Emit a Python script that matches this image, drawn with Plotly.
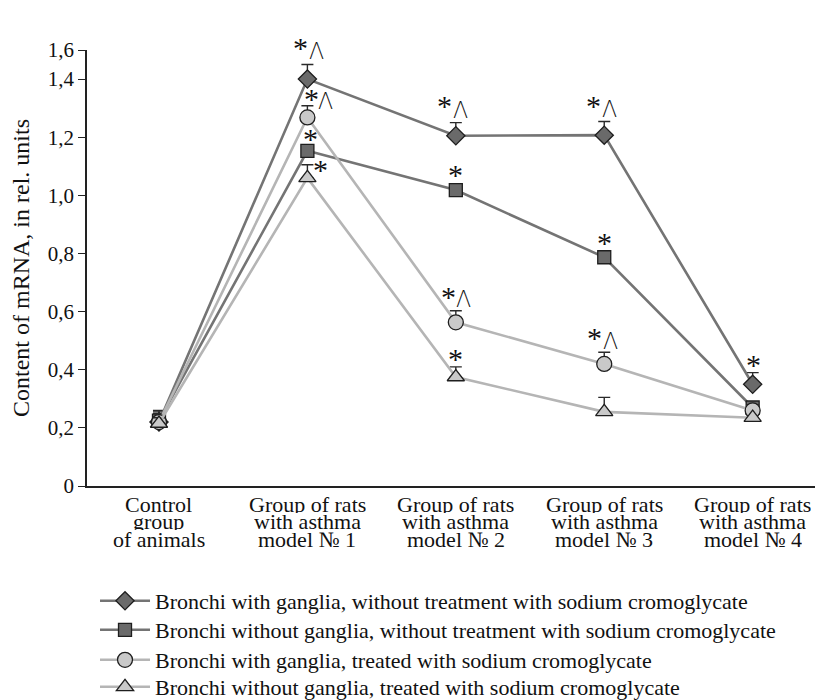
import plotly.graph_objects as go

# ---- data ----
categories = [
    ["Control", "group", "of animals"],
    ["Group of rats", "with asthma", "model № 1"],
    ["Group of rats", "with asthma", "model № 2"],
    ["Group of rats", "with asthma", "model № 3"],
    ["Group of rats", "with asthma", "model № 4"],
]
series_names = [
    "Bronchi with ganglia, without treatment with sodium cromoglycate",
    "Bronchi without ganglia, without treatment with sodium cromoglycate",
    "Bronchi with ganglia, treated with sodium cromoglycate",
    "Bronchi without ganglia, treated with sodium cromoglycate",
]
diamond_vals = [0.22, 1.40, 1.205, 1.207, 0.35]
diamond_err = [0.04, 0.05, 0.045, 0.047, 0.04]
square_vals = [0.225, 1.153, 1.018, 0.787, 0.27]
square_err = [0.03, 0.0, 0.0, 0.0, 0.02]
circle_vals = [0.22, 1.268, 0.563, 0.42, 0.26]
circle_err = [0.03, 0.04, 0.04, 0.04, 0.02]
triangle_vals = [0.215, 1.06, 0.375, 0.255, 0.235]
triangle_err = [0.02, 0.045, 0.035, 0.05, 0.0]

# significance marks: (category index, star, caret)
diamond_marks = [(1, True, True), (2, True, True), (3, True, True), (4, True, False)]
square_marks = [(1, True, False), (2, True, False), (3, True, False)]
circle_marks = [(1, True, True), (2, True, True), (3, True, True)]
triangle_marks = [(1, True, False), (2, True, False)]

ytick_vals = [0, 0.2, 0.4, 0.6, 0.8, 1.0, 1.2, 1.4, 1.5]
ytick_text = ["0", "0,2", "0,4", "0,6", "0,8", "1,0", "1,2", "1,4", "1,6"]

# ---- styling ----
FONT = "Liberation Serif"
DARK_LINE = "#747474"
DARK_FILL = "#6a6a6a"
LIGHT_LINE = "#b5b5b5"
LIGHT_FILL = "#c9c9c9"
EDGE = "#1e1e1e"

x = list(range(len(categories)))
specs = [
    (diamond_vals, diamond_err, "diamond", 14, DARK_LINE, DARK_FILL),
    (square_vals, square_err, "square", 13, DARK_LINE, DARK_FILL),
    (circle_vals, circle_err, "circle", 15, LIGHT_LINE, LIGHT_FILL),
    (triangle_vals, triangle_err, "triangle-up", 15, LIGHT_LINE, LIGHT_FILL),
]
legend_ids = ["legend", "legend2", "legend3", "legend4"]
legend_y = [-0.2638, -0.3303, -0.3991, -0.461]   # legend row centres (paper units)

fig = go.Figure()
for name, lid, (vals, err, sym, size, lc, fc) in zip(series_names, legend_ids, specs):
    fig.add_trace(go.Scatter(
        x=x, y=vals, name=name, mode="lines+markers", legend=lid,
        line=dict(color=lc, width=2.6),
        marker=dict(symbol=sym, size=size, color=fc, line=dict(color=EDGE, width=1.3)),
        error_y=dict(type="data", symmetric=False, array=err,
                     arrayminus=[0] * len(err), color="#2a2a2a", thickness=1.4, width=6),
    ))

annotations = []
# category labels (three lines each)
for i, lines in enumerate(categories):
    for j, t in enumerate(lines):
        annotations.append(dict(
            x=i, y=0, xref="x", yref="y", text=t, showarrow=False,
            yanchor="middle", xanchor="center", yshift=-(18 + 17.5 * j),
            height=17, valign="middle",
            font=dict(family=FONT, size=22, color="#111"),
        ))

# significance marks with per-series pixel offsets (star dx, dy, caret dx, dy)
mark_sets = [
    (diamond_vals, diamond_marks, [(0, 0, 0, 0), (-7, 36, 9, 28), (-11, 34, 5, 26), (-11, 34, 5, 26), (1, 24, 0, 0)]),
    (square_vals, square_marks, [(0, 0, 0, 0), (3, 16, 0, 0), (0, 20, 0, 0), (0, 19, 0, 0), (0, 0, 0, 0)]),
    (circle_vals, circle_marks, [(0, 0, 0, 0), (4, 23, 18, 16), (-7, 30, 8, 23), (-10, 30, 6, 23), (0, 0, 0, 0)]),
    (triangle_vals, triangle_marks, [(0, 0, 0, 0), (13, 12, 0, 0), (0, 23, 0, 0), (0, 0, 0, 0), (0, 0, 0, 0)]),
]
for vals, marks, offs in mark_sets:
    for (ci, star, caret) in marks:
        sdx, sdy, cdx, cdy = offs[ci]
        if star:
            annotations.append(dict(
                x=ci, y=vals[ci], xref="x", yref="y", text="*", showarrow=False,
                xshift=sdx, yshift=sdy - 4, font=dict(family=FONT, size=30, color="#111"),
            ))
        if caret:
            annotations.append(dict(
                x=ci, y=vals[ci], xref="x", yref="y", text="Λ", showarrow=False,
                xshift=cdx, yshift=cdy,
                font=dict(family="Inter", size=23, weight=250, color="#111"),
            ))

legend_style = dict(
    orientation="v", x=0.011, xanchor="left", yanchor="middle",
    font=dict(family=FONT, size=22, color="#111"),
    bgcolor="rgba(0,0,0,0)", itemwidth=50,
)

# The page body has an 8px margin, so the figure is 8px smaller than the window
layout_kwargs = {lid: dict(legend_style, y=ly) for lid, ly in zip(legend_ids, legend_y)}
fig.update_layout(
    width=816, height=692,
    margin=dict(l=79, r=9, t=42, b=214, autoexpand=False),
    paper_bgcolor="white", plot_bgcolor="white",
    font=dict(family=FONT, size=20, color="#111"),
    showlegend=True,
    annotations=annotations,
    xaxis=dict(
        range=[-0.485, 4.42], showgrid=False, zeroline=False,
        showline=True, linecolor="#222", linewidth=1.5,
        showticklabels=False, ticks="",
    ),
    yaxis=dict(
        range=[0, 1.5], showgrid=False, zeroline=False,
        showline=True, linecolor="#222", linewidth=1.5,
        ticks="outside", ticklen=7, tickcolor="#222", tickwidth=1.3,
        tickvals=ytick_vals, ticktext=ytick_text,
        tickfont=dict(family=FONT, size=21, color="#111"),
        title=dict(text="Content of mRNA, in rel. units", standoff=12,
                   font=dict(family=FONT, size=24, color="#111")),
    ),
    **layout_kwargs,
)

fig.write_html("out.html")
